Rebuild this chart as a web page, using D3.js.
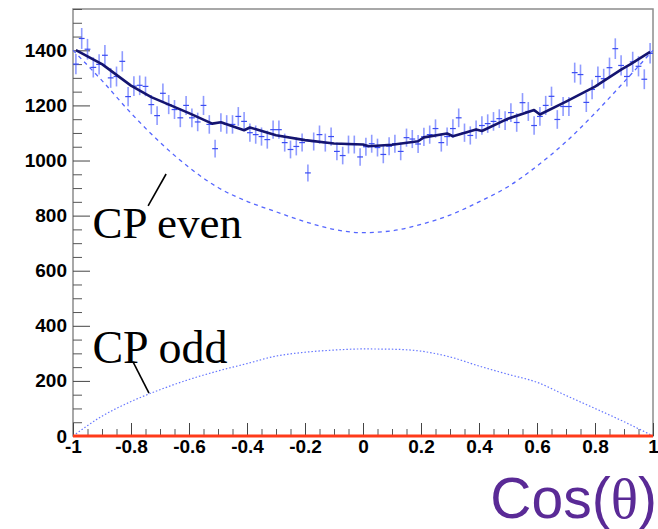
<!DOCTYPE html>
<html>
<head>
<meta charset="utf-8">
<script src="https://cdn.jsdelivr.net/npm/d3@7"></script>
<style>
  body { margin: 0; background: #fff; }
  svg { display: block; }
</style>
</head>
<body>
<div id="chart"></div>
<script>
// measured counts, 100 bins of width 0.02 on [-1, 1]
const binCounts = [
  1350, 1443, 1404, 1338, 1349, 1382, 1300, 1305, 1360, 1232,
  1270, 1273, 1269, 1203, 1163, 1244, 1203, 1185, 1155, 1200,
  1155, 1140, 1200, 1131, 1043, 1138, 1131, 1131, 1160, 1142,
  1101, 1094, 1087, 1076, 1112, 1112, 1065, 1040, 1051, 1065,
   955, 1069, 1094, 1065, 1087, 1033, 1018, 1058, 1058, 1013,
  1050, 1061, 1047, 1022, 1052, 1061, 1033, 1083, 1078, 1060,
  1086, 1094, 1116, 1065, 1087, 1116, 1155, 1101, 1091, 1112,
  1127, 1134, 1142, 1152, 1145, 1174, 1138, 1210, 1178, 1127,
  1160, 1200, 1233, 1149, 1196, 1196, 1319, 1312, 1211, 1258,
  1305, 1297, 1337, 1406, 1345, 1305, 1358, 1342, 1295, 1389
];

// template curves (CP even dashed, CP odd dotted)
const templateX = [-1, -0.9, -0.8, -0.7, -0.6, -0.5, -0.4, -0.3, -0.2, -0.1, 0,
                   0.1, 0.2, 0.3, 0.4, 0.5, 0.6, 0.7, 0.8, 0.9, 1];
const cpEven = [1400, 1290, 1172, 1066, 975, 902, 852, 814, 778, 750, 738,
                745, 768, 802, 850, 905, 980, 1068, 1172, 1285, 1400];
const cpOdd  = [0, 72, 125, 168, 205, 236, 263, 290, 304, 312, 316,
                315, 308, 287, 254, 224, 195, 147, 100, 52, 0];

// fitted sum (solid line)
const fitX = [-0.99, -0.9, -0.8, -0.73, -0.6, -0.52, -0.49, -0.41, -0.39, -0.3, -0.2,
              -0.1, 0, 0.02, 0.1, 0.19, 0.21, 0.29, 0.31, 0.39, 0.41, 0.5, 0.59, 0.61,
              0.7, 0.8, 0.89, 0.92, 0.99];
const fitY = [1401, 1350, 1272, 1230, 1172, 1134, 1139, 1110, 1120, 1092, 1074,
              1062, 1058, 1052, 1057, 1070, 1084, 1098, 1088, 1113, 1107, 1152, 1183, 1167,
              1214, 1268, 1330, 1348, 1394];

const yMajor = [0, 200, 400, 600, 800, 1000, 1200, 1400];
const xMajor = [-1, -0.8, -0.6, -0.4, -0.2, 0, 0.2, 0.4, 0.6, 0.8, 1];

const width = 658, height = 529;
const margin = {left: 73, right: 5, top: 9, bottom: 93};

const svg = d3.select("#chart").append("svg")
  .attr("width", width).attr("height", height);

const x = d3.scaleLinear().domain([-1, 1]).range([margin.left, width - margin.right]);
const y = d3.scaleLinear().domain([0, 1550]).range([height - margin.bottom, margin.top]);

const binW = 2 / binCounts.length;
const bins = binCounts.map((c, i) => ({x: -1 + binW * (i + 0.5), v: c, e: Math.sqrt(c)}));

// frame
svg.append("rect")
  .attr("x", x(-1)).attr("y", y(1550))
  .attr("width", x(1) - x(-1)).attr("height", y(0) - y(1550))
  .attr("fill", "none").attr("stroke", "#8c8c8c").attr("stroke-width", 1.5);

const labelFont = "Liberation Sans, Arial, sans-serif";

// y axis (ticks inside)
const yMinor = d3.range(0, 1551, 50).filter(v => v % 200 !== 0);
svg.append("g").attr("transform", `translate(${x(-1)},0)`)
  .call(d3.axisLeft(y).tickValues(yMinor).tickSize(-9).tickFormat(""))
  .call(g => g.select(".domain").remove())
  .call(g => g.selectAll("line").attr("stroke", "#555"));
svg.append("g").attr("transform", `translate(${x(-1)},0)`)
  .call(d3.axisLeft(y).tickValues(yMajor).tickSizeInner(-17).tickSizeOuter(0).tickPadding(6)
    .tickFormat(d => String(d)))
  .call(g => g.select(".domain").remove())
  .call(g => g.selectAll("line").attr("stroke", "#444"))
  .call(g => g.selectAll("text")
    .attr("font-family", labelFont)
    .attr("font-weight", "bold").attr("font-size", 19).attr("fill", "#000"));

// x axis (ticks inside)
const xMinor = d3.range(-1, 1.0001, 0.05).map(v => +v.toFixed(2))
  .filter(v => Math.abs(Math.round(v * 5) - v * 5) > 1e-6);
svg.append("g").attr("transform", `translate(0,${y(0)})`)
  .call(d3.axisBottom(x).tickValues(xMinor).tickSize(-7).tickFormat(""))
  .call(g => g.select(".domain").remove())
  .call(g => g.selectAll("line").attr("stroke", "#555"));
svg.append("g").attr("transform", `translate(0,${y(0)})`)
  .call(d3.axisBottom(x).tickValues(xMajor).tickSizeInner(-13).tickSizeOuter(0).tickPadding(4)
    .tickFormat(d => String(d)))
  .call(g => g.select(".domain").remove())
  .call(g => g.selectAll("line").attr("stroke", "#444"))
  .call(g => g.selectAll("text")
    .attr("font-family", labelFont)
    .attr("font-weight", "bold").attr("font-size", 19).attr("fill", "#000"));

// templates
const templ = templateX.map((t, i) => ({x: t, even: cpEven[i], odd: cpOdd[i]}));
svg.append("path").datum(templ)
  .attr("fill", "none").attr("stroke", "#5566ff").attr("stroke-width", 1.3)
  .attr("stroke-dasharray", "4,4")
  .attr("d", d3.line().x(d => x(d.x)).y(d => y(d.even)).curve(d3.curveMonotoneX));
svg.append("path").datum(templ)
  .attr("fill", "none").attr("stroke", "#6677ff").attr("stroke-width", 1.2)
  .attr("stroke-dasharray", "1.5,2")
  .attr("d", d3.line().x(d => x(d.x)).y(d => y(d.odd)).curve(d3.curveMonotoneX));

// data points with error bars
const pts = svg.append("g");
pts.selectAll(".ev").data(bins).enter().append("line")
  .attr("x1", d => x(d.x)).attr("x2", d => x(d.x))
  .attr("y1", d => y(d.v - d.e)).attr("y2", d => y(d.v + d.e))
  .attr("stroke", "#6070ff").attr("stroke-opacity", 0.7).attr("stroke-width", 1.6);
pts.selectAll(".eh").data(bins).enter().append("line")
  .attr("x1", d => x(d.x - binW / 2)).attr("x2", d => x(d.x + binW / 2))
  .attr("y1", d => y(d.v)).attr("y2", d => y(d.v))
  .attr("stroke", "#3a4cf2").attr("stroke-width", 1.2);

// fitted sum
svg.append("path").datum(fitX.map((t, i) => [t, fitY[i]]))
  .attr("fill", "none").attr("stroke", "#141470").attr("stroke-width", 2.6)
  .attr("stroke-linejoin", "round")
  .attr("d", d3.line().x(d => x(d[0])).y(d => y(d[1])));

// zero histogram in red
svg.append("line")
  .attr("x1", x(-1)).attr("x2", x(1)).attr("y1", y(0)).attr("y2", y(0))
  .attr("stroke", "#ff3a1a").attr("stroke-width", 3.2);

// annotations
const serif = "Liberation Serif, Times New Roman, serif";
svg.append("line")
  .attr("x1", x(-0.741)).attr("y1", y(835)).attr("x2", x(-0.679)).attr("y2", y(951))
  .attr("stroke", "#000").attr("stroke-width", 1.6);
svg.append("text").attr("x", x(-0.933)).attr("y", y(720))
  .attr("font-family", serif).attr("font-size", 45).attr("fill", "#000")
  .text("CP even");
svg.append("line")
  .attr("x1", x(-0.793)).attr("y1", y(269)).attr("x2", x(-0.738)).attr("y2", y(156))
  .attr("stroke", "#000").attr("stroke-width", 1.6);
svg.append("text").attr("x", x(-0.933)).attr("y", y(264))
  .attr("font-family", serif).attr("font-size", 46).attr("fill", "#000")
  .text("CP odd");

// axis title
const title = svg.append("text").attr("x", 657).attr("y", 518)
  .attr("text-anchor", "end").attr("fill", "#5a2a96")
  .attr("font-family", labelFont).attr("font-size", 57);
title.append("tspan").text("Cos(");
title.append("tspan").attr("font-family", serif).text("θ");
title.append("tspan").text(")");
</script>
</body>
</html>
